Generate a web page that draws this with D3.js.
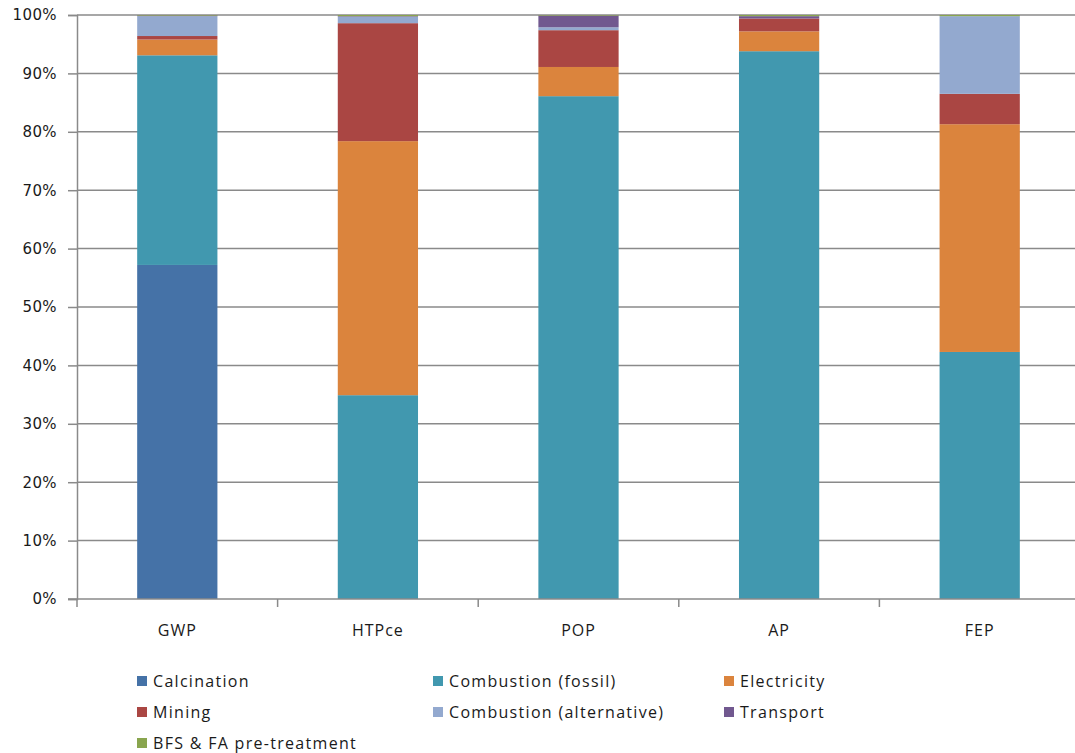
<!DOCTYPE html>
<html>
<head>
<meta charset="utf-8">
<script src="https://cdn.jsdelivr.net/npm/d3@7"></script>
<style>
  html, body { margin: 0; padding: 0; background: #fff; }
  svg { display: block; }
  text { font-family: "Open Sans", "Noto Sans", sans-serif; fill: #1a1a1a; }
</style>
</head>
<body>
<svg id="chart" width="1075" height="753"></svg>
<script>
// Impact categories along the x axis
const categories = ["GWP", "HTPce", "POP", "AP", "FEP"];

// Contribution shares (%) of each process, per impact category
const calcination      = [57.2, 0.0, 0.0, 0.0, 0.0];
const combustionFossil = [35.9, 34.9, 86.1, 93.8, 42.3];
const electricity      = [2.7, 43.5, 5.0, 3.4, 39.0];
const mining           = [0.6, 20.2, 6.3, 2.2, 5.2];
const combustionAlt    = [3.4, 1.1, 0.5, 0.0, 13.3];
const transport        = [0.1, 0.1, 2.0, 0.4, 0.0];
const bfsFa            = [0.1, 0.2, 0.1, 0.2, 0.2];

const seriesNames = ["Calcination", "Combustion (fossil)", "Electricity", "Mining",
                     "Combustion (alternative)", "Transport", "BFS & FA pre-treatment"];
const seriesValues = [calcination, combustionFossil, electricity, mining,
                      combustionAlt, transport, bfsFa];
const seriesColors = ["#4572A7", "#4198AF", "#DB843D", "#AA4643", "#93A9CF", "#71588F", "#89A54E"];

const yTicks = [0, 10, 20, 30, 40, 50, 60, 70, 80, 90, 100];

// Table of rows for the stack layout
const rows = categories.map((c, i) => {
  const r = { category: c };
  seriesNames.forEach((s, j) => { r[s] = seriesValues[j][i]; });
  return r;
});

const svg = d3.select("#chart");
const plot = { left: 77, right: 1080, top: 15, bottom: 599 };

const x = d3.scaleBand()
  .domain(categories)
  .range([plot.left, plot.right])
  .paddingInner(0.6)
  .paddingOuter(0.3);

const y = d3.scaleLinear().domain([0, 100]).range([plot.bottom, plot.top]);

const gridColor = "#8a8a8a";

// Horizontal gridlines
svg.append("g")
  .selectAll("line")
  .data(yTicks.filter(t => t > 0))
  .join("line")
  .attr("x1", plot.left).attr("x2", plot.right)
  .attr("y1", d => y(d)).attr("y2", d => y(d))
  .attr("stroke", gridColor).attr("stroke-width", 1.5);

// Stacked bars
const stack = d3.stack().keys(seriesNames);
const layers = stack(rows);

svg.append("g")
  .selectAll("g")
  .data(layers)
  .join("g")
  .attr("fill", (d, i) => seriesColors[i])
  .selectAll("rect")
  .data(d => d)
  .join("rect")
  .attr("x", d => x(d.data.category))
  .attr("width", x.bandwidth())
  .attr("y", d => y(d[1]))
  .attr("height", d => Math.max(0, y(d[0]) - y(d[1])));

// Y axis
const yAxis = d3.axisLeft(y)
  .tickValues(yTicks)
  .tickFormat(d => d + "%")
  .tickSize(9)
  .tickPadding(11);

const gy = svg.append("g")
  .attr("transform", `translate(${plot.left},0)`)
  .call(yAxis);
gy.select(".domain").attr("stroke", gridColor).attr("stroke-width", 1.5);
gy.selectAll(".tick line").attr("stroke", gridColor).attr("stroke-width", 1.5);
gy.selectAll(".tick text")
  .style("font-family", "'DejaVu Sans', sans-serif")
  .style("font-size", "15px")
  .style("letter-spacing", "0.4px")
  .attr("fill", "#222");

// X axis with tick marks at category boundaries
const gx = svg.append("g")
  .attr("transform", `translate(0,${plot.bottom})`);
gx.append("line")
  .attr("x1", plot.left - 9).attr("x2", plot.right)
  .attr("y1", 0).attr("y2", 0)
  .attr("stroke", gridColor).attr("stroke-width", 1.5);
const step = x.step();
gx.selectAll("line.tick")
  .data(d3.range(categories.length + 1))
  .join("line")
  .attr("class", "tick")
  .attr("x1", i => plot.left + i * step)
  .attr("x2", i => plot.left + i * step)
  .attr("y1", 0).attr("y2", 8)
  .attr("stroke", gridColor).attr("stroke-width", 1.5);
gx.selectAll("text")
  .data(categories)
  .join("text")
  .attr("x", d => x(d) + x.bandwidth() / 2)
  .attr("y", 37)
  .attr("text-anchor", "middle")
  .style("font-size", "16px")
  .style("letter-spacing", "1px")
  .text(d => d);

// Legend: three columns
const legendCols = [137, 433, 724];
const legendRows = [681, 712, 743];
const legend = svg.append("g")
  .selectAll("g")
  .data(seriesNames)
  .join("g")
  .attr("transform", (d, i) => `translate(${legendCols[i % 3]},${legendRows[Math.floor(i / 3)]})`);
legend.append("rect")
  .attr("x", 0).attr("y", -5)
  .attr("width", 10).attr("height", 10)
  .attr("fill", (d, i) => seriesColors[i]);
legend.append("text")
  .attr("x", 16).attr("y", 0)
  .attr("dy", "0.35em")
  .style("font-size", "16px")
  .style("letter-spacing", "1.3px")
  .text(d => d);
</script>
</body>
</html>
